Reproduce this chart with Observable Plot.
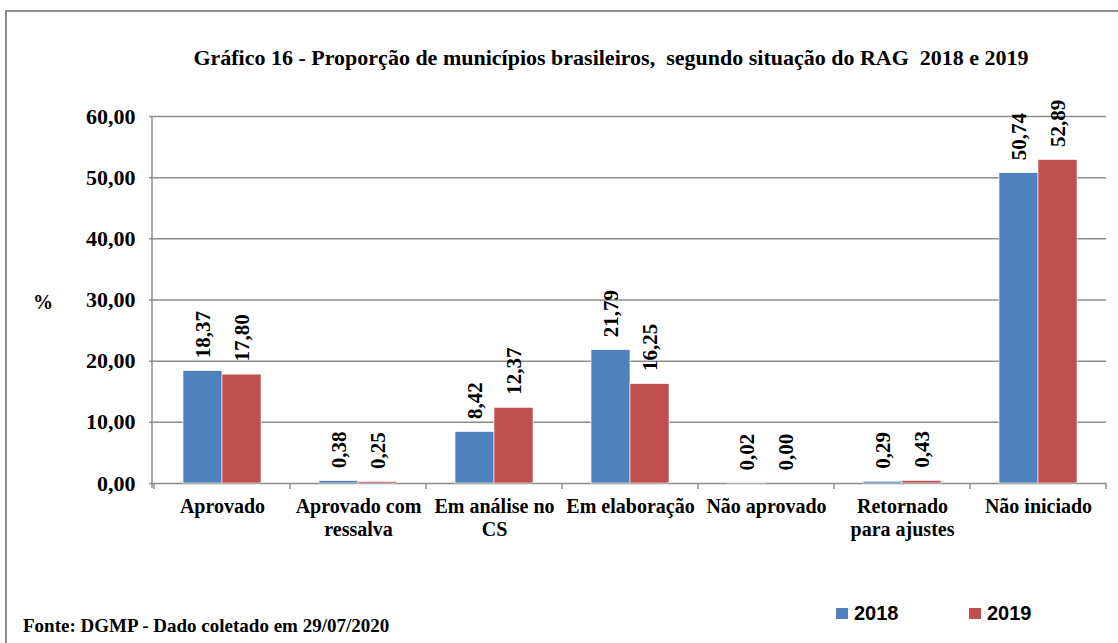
<!DOCTYPE html>
<html>
<head>
<meta charset="utf-8">
<script src="https://cdn.jsdelivr.net/npm/d3@7"></script>
<script src="https://cdn.jsdelivr.net/npm/@observablehq/plot@0.6"></script>
<style>
  body { margin: 0; background: #fff; }
  #wrap { position: relative; width: 1118px; height: 643px; overflow: hidden; background: #fff; }
  #border { position: absolute; left: 5px; top: 10px; width: 1300px; height: 800px; border: 2px solid #8c8c8c; box-sizing: border-box; }
  .serif { font-family: "Liberation Serif", "Times New Roman", serif; font-weight: bold; color: #000; }
  #title { position: absolute; left: 611px; top: 45px; transform: translateX(-50%); white-space: pre; font-size: 22px; line-height: 26px; }
  #chart { position: absolute; left: 0; top: 100px; }
  #ylabel { position: absolute; left: 33px; top: 290px; font-size: 20px; line-height: 24px; }
  #footer { position: absolute; left: 23px; top: 614px; font-size: 19px; line-height: 24px; white-space: pre; }
  .leg { position: absolute; top: 601px; font-family: "Liberation Sans", Arial, sans-serif; font-weight: bold; font-size: 20px; line-height: 24px; display: flex; align-items: center; }
  .leg span.sw { display: inline-block; width: 12px; height: 11px; margin-right: 6px; }
</style>
</head>
<body>
<div id="wrap">
  <div id="border"></div>
  <div id="title" class="serif"></div>
  <div id="chart"></div>
  <div id="ylabel" class="serif">%</div>
  <div id="footer" class="serif"></div>
  <div id="legend"></div>
</div>
<script>
const titleText = "Gráfico 16 - Proporção de municípios brasileiros,  segundo situação do RAG  2018 e 2019";
const footerText = "Fonte: DGMP - Dado coletado em 29/07/2020";
const categories = ["Aprovado", "Aprovado com ressalva", "Em análise no CS", "Em elaboração", "Não aprovado", "Retornado para ajustes", "Não iniciado"];
const categoryLabels = ["Aprovado", "Aprovado com\nressalva", "Em análise no\nCS", "Em elaboração", "Não aprovado", "Retornado\npara ajustes", "Não iniciado"];
const years = ["2018", "2019"];
const v2018 = [18.37, 0.38, 8.42, 21.79, 0.02, 0.29, 50.74];
const v2019 = [17.80, 0.25, 12.37, 16.25, 0.00, 0.43, 52.89];
const yTicks = [0, 10, 20, 30, 40, 50, 60];
const colors = ["#4F81BD", "#C0504D"];

document.getElementById("title").textContent = titleText;
document.getElementById("footer").textContent = footerText;

const fmt = v => v.toFixed(2).replace(".", ",");
const labelOf = new Map(categories.map((c, i) => [c, categoryLabels[i]]));

const data = categories.flatMap((c, i) => [
  {cat: c, year: years[0], value: v2018[i]},
  {cat: c, year: years[1], value: v2019[i]}
]);

const chart = Plot.plot({
  width: 1118,
  height: 445,
  marginTop: 16,
  marginBottom: 62,
  marginLeft: 152,
  marginRight: 11,
  style: {fontFamily: "'Liberation Serif', 'Times New Roman', serif", fontWeight: "bold", color: "#000", background: "transparent"},
  fx: {domain: categories, padding: 0, label: null},
  x: {domain: years, paddingInner: 0, paddingOuter: 0.74, axis: null},
  y: {domain: [0, 60], label: null},
  color: {domain: years, range: colors},
  marks: [
    Plot.gridY(yTicks, {stroke: "#8c8c8c", strokeOpacity: 1, strokeWidth: 1.5}),
    Plot.axisY({ticks: yTicks, tickFormat: fmt, tickSize: 5, tickPadding: 14, fontSize: 22, label: null, stroke: "#8c8c8c", strokeWidth: 1.5}),
    Plot.axisFx({anchor: "bottom", tickSize: 0, tickPadding: 13, fontSize: 20, lineHeight: 1.15, label: null, tickFormat: d => labelOf.get(d)}),
    Plot.barY(data, {fx: "cat", x: "year", y: "value", fill: "year", stroke: "#ffffff", strokeWidth: 0.6}),
    Plot.text(data, {fx: "cat", x: "year", y: "value", text: d => fmt(d.value), rotate: -90, textAnchor: "start", dy: -13, fontSize: 21, fontWeight: "bold", fill: "#000"})
  ]
});

document.getElementById("chart").appendChild(chart);

// axis line and category boundary ticks, positioned by Plot's own scales
const fx = chart.scale("fx");
const y = chart.scale("y");
const svg = d3.select(chart);
const y0 = y.apply(0), yTop = y.apply(60);
const x0 = fx.range[0];
const g = svg.append("g").attr("stroke", "#8c8c8c").attr("stroke-width", 1.5);
g.append("line").attr("x1", x0).attr("x2", x0).attr("y1", yTop).attr("y2", y0 + 5);
const edges = categories.map(c => fx.apply(c)).concat([fx.apply(categories[categories.length - 1]) + fx.bandwidth]);
edges.forEach(e => g.append("line").attr("x1", e).attr("x2", e).attr("y1", y0).attr("y2", y0 + 6));

// legend
const legend = document.getElementById("legend");
const legendX = [836, 969];
years.forEach((yr, i) => {
  const d = document.createElement("div");
  d.className = "leg";
  d.style.left = legendX[i] + "px";
  const sw = document.createElement("span");
  sw.className = "sw";
  sw.style.background = colors[i];
  d.appendChild(sw);
  d.appendChild(document.createTextNode(yr));
  legend.appendChild(d);
});
</script>
</body>
</html>
